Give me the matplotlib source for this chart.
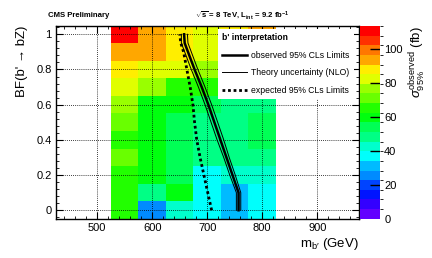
import colorsys
import numpy as np
import matplotlib
matplotlib.use('Agg')
import matplotlib.pyplot as plt
from matplotlib.colors import ListedColormap, BoundaryNorm
from matplotlib.ticker import MultipleLocator

plt.rcParams['font.family'] = ['Liberation Sans', 'DejaVu Sans']
plt.rcParams['mathtext.fontset'] = 'custom'
plt.rcParams['mathtext.rm'] = 'Liberation Sans'
plt.rcParams['mathtext.it'] = 'Liberation Sans:italic'
plt.rcParams['mathtext.bf'] = 'Liberation Sans:bold'

# grid of the scan
masses = [550, 600, 650, 700, 750, 800]
bf_vals = [0.0, 0.1, 0.2, 0.3, 0.4, 0.5, 0.6, 0.7, 0.8, 0.9, 1.0]

# observed cross section limit (fb), one row per BF value (BF=0 first)
xsec = [
    [65, 25, 42, 37, 31, 37],
    [65, 48, 60, 37, 31, 37],
    [65, 60, 54, 37, 42, 42],
    [71, 60, 54, 48, 48, 48],
    [65, 60, 54, 48, 48, 54],
    [71, 60, 54, 48, 48, 54],
    [76, 60, 60, 54, 48, 48],
    [82, 76, 65, 65, 60, 60],
    [88, 82, 82, 76, 76, 76],
    [94, 94, 88, 82, 82, 88],
    [113, 94, 88, 82, 88, 94],
]
zmax = 113.4
zticks = [0, 20, 40, 60, 80, 100]

# limit curves
bf_line = [0.0, 0.1, 0.2, 0.3, 0.4, 0.5, 0.6, 0.7, 0.8, 0.9, 0.95, 1.0]
obs_mass = [757, 757, 746, 735, 724, 713, 702, 690, 677, 665, 659, 658]
th_low = [753, 753, 741, 730, 718, 707, 696, 684, 671, 659, 653, 653]
th_high = [761, 761, 751, 740, 730, 719, 708, 696, 683, 671, 665, 664]
exp_mass = [708, 701, 694, 687, 681, 677, 674, 669, 663, 657, 652, 650]

# ROOT "pretty" palette, 20 contours
ncont = 20
cols = []
for k in range(ncont):
    idx = int((k + 0.99) * 50 / ncont)
    hue = max(280 - (idx + 1) * 5.6, 0)
    cols.append(colorsys.hls_to_rgb(hue / 360., 0.5, 1.0))
cmap = ListedColormap(cols)
norm = BoundaryNorm(np.linspace(0, zmax, ncont + 1), ncont)

fig = plt.figure(figsize=(4.32, 2.58), dpi=100)
ax = fig.add_axes([0.1296, 0.1523, 0.7014, 0.7469])
cax = fig.add_axes([0.8333, 0.1523, 0.0463, 0.7469])

xedges = np.append(np.array(masses) - 25, masses[-1] + 25)
yedges = np.append(np.array(bf_vals) - 0.05, bf_vals[-1] + 0.05)
mesh = ax.pcolormesh(xedges, yedges, np.array(xsec), cmap=cmap, norm=norm)

ax.plot(obs_mass, bf_line, color='k', lw=1.8, label='observed 95% CLs Limits')
ax.plot(th_low, bf_line, color='k', lw=0.7, label='Theory uncertainty (NLO)')
ax.plot(th_high, bf_line, color='k', lw=0.7)
ax.plot(exp_mass, bf_line, color='k', lw=2.0, linestyle=(0, (1, 1)),
        label='expected 95% CLs Limits')

ax.set_xlim(425, 976)
ax.set_ylim(-0.048, 1.047)
ax.xaxis.set_major_locator(MultipleLocator(100))
ax.xaxis.set_minor_locator(MultipleLocator(20))
ax.yaxis.set_major_locator(MultipleLocator(0.2))
ax.yaxis.set_minor_locator(MultipleLocator(0.04))
ax.set_yticks([0, 0.2, 0.4, 0.6, 0.8, 1.0])
ax.set_yticklabels(['0', '0.2', '0.4', '0.6', '0.8', '1'])
ax.tick_params(which='both', direction='in', top=True, right=True, labelsize=8, pad=3)
ax.tick_params(which='major', length=5)
ax.tick_params(which='minor', length=2.5)
ax.grid(True, which='major', color='k', linestyle=(0, (1, 1.5)), lw=0.6)
ax.set_axisbelow(False)
for s in ax.spines.values():
    s.set_linewidth(1.0)

ax.set_ylabel("BF(b' \u2192 bZ)", fontsize=9.5, loc='top', labelpad=6)
ax.set_xlabel(r"m$_{\mathrm{b}\prime}$ (GeV)", fontsize=9.5, loc='right', labelpad=2)

leg = ax.legend(loc='upper left', bbox_to_anchor=(0.535, 0.985), fontsize=6.2,
                title="b' interpretation", title_fontproperties={'weight': 'bold', 'size': 6.2},
                alignment='left', frameon=True, fancybox=False, edgecolor='white',
                framealpha=1.0, handlelength=2.8, handletextpad=0.55,
                labelspacing=1.0, borderpad=0.5, borderaxespad=0.0)
leg.get_frame().set_linewidth(0)

cb = fig.colorbar(mesh, cax=cax, ticks=zticks)
cb.outline.set_visible(False)
cax.tick_params(length=0, labelsize=8, pad=3)
cax.set_ylabel(r'$\sigma^{\mathrm{observed}}_{95\%}$ (fb)', fontsize=9.5, loc='top', labelpad=4)

# palette tick marks drawn into the bar from its right edge, ROOT style
tax = fig.add_axes(cax.get_position(), zorder=10)
tax.patch.set_visible(False)
tax.set_xlim(0, 1)
tax.set_ylim(0, zmax)
tax.axis('off')
tax.hlines(zticks[1:], 0.5, 1.0, color='k', lw=1.0)

fig.text(47.7 / 432, 1 - 15.5 / 258, 'CMS Preliminary', fontsize=5.6, weight='bold',
         ha='left', va='center')
fig.text(195 / 432, 1 - 15.5 / 258,
         r'$\sqrt{\mathbf{s}}$ = 8 TeV, L$_{\mathbf{int}}$ = 9.2 fb$^{\mathbf{-1}}$',
         fontsize=5.6, weight='bold', ha='left', va='center')

fig.savefig('out.png', dpi=100)
